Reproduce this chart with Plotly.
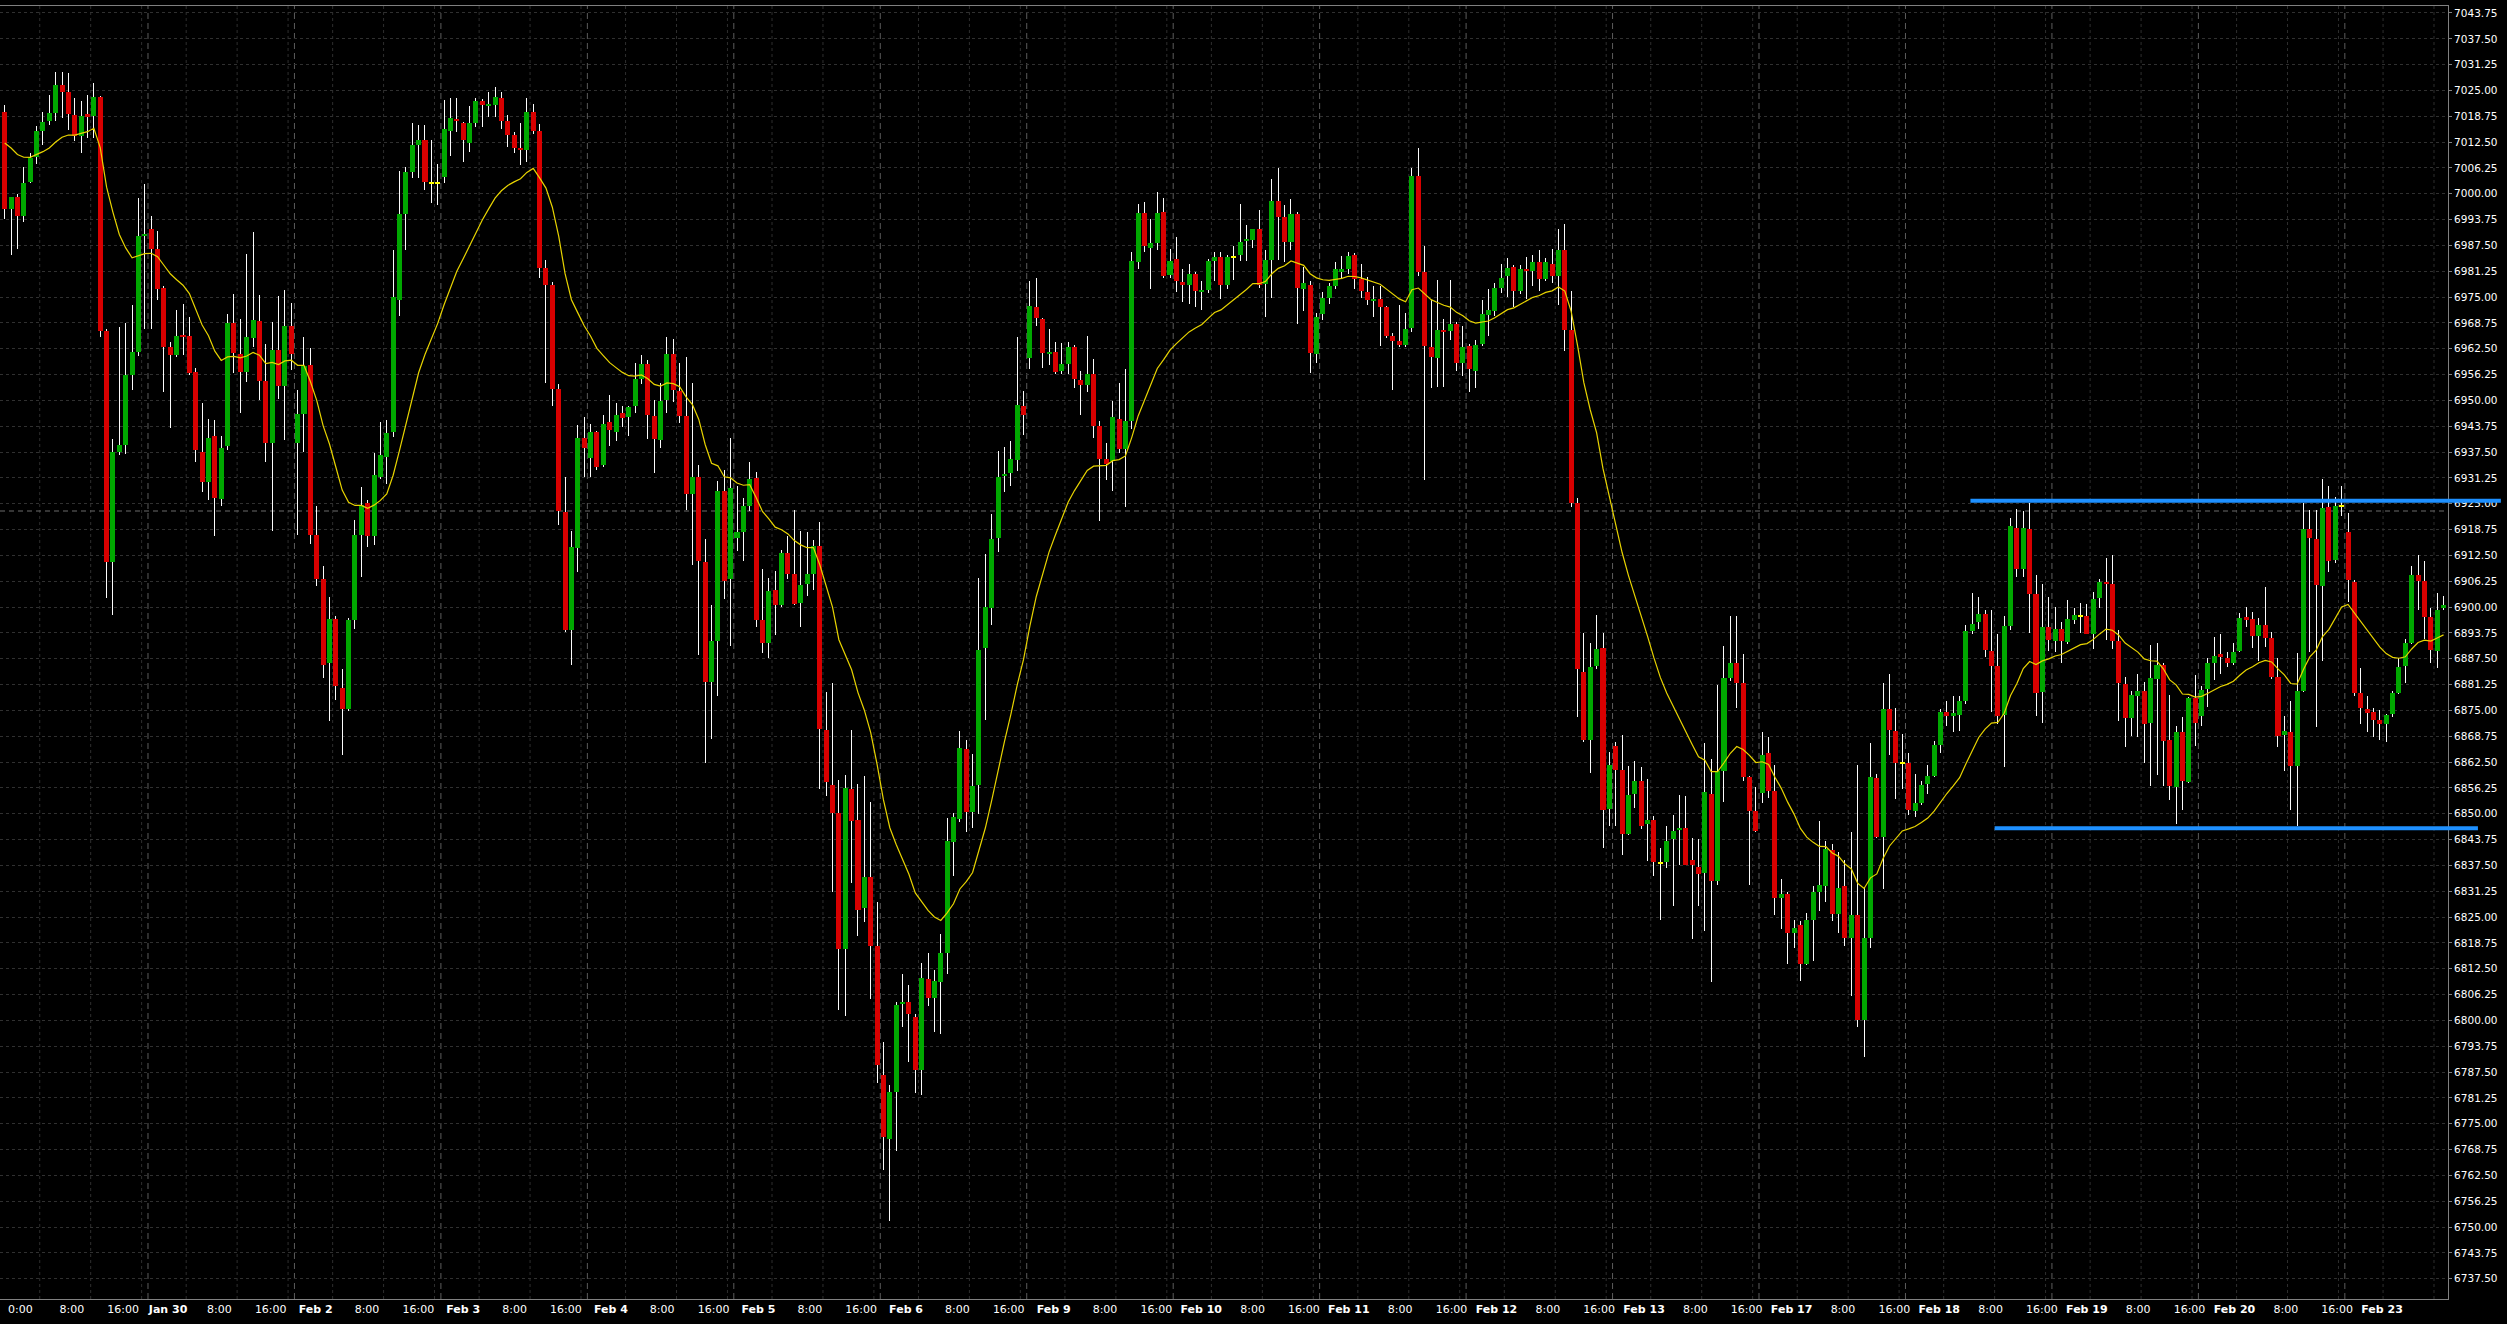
import plotly.graph_objects as go

# ---------------- data (hourly bars) ----------------
opens = [7019.7,6996.3,6999.2,6994.7,7002.9,7008.9,7015.3,7017.6,7019.5,7026.4,
7024.7,7019.0,7014.0,7019.3,7018.9,7023.5,6966.8,6911.0,6937.5,6939.3,
6956.1,6961.8,6989.7,6991.5,6986.6,6977.3,6963.0,6961.0,6965.8,6965.5,
6956.9,6937.5,6930.2,6941.3,6926.2,6939.0,6968.7,6961.3,6956.9,6965.1,
6969.3,6954.7,6939.6,6962.1,6953.5,6967.9,6939.6,6946.8,6958.6,6917.5,
6906.7,6886.5,6897.1,6880.4,6875.4,6897.0,6917.5,6925.3,6917.3,6931.6,
6936.4,6942.4,6974.2,6995.0,7005.2,7011.9,7012.9,7002.7,7002.7,7004.1,
7015.2,7018.0,7017.2,7012.4,7017.2,7022.4,7021.4,7021.6,7023.3,7017.5,
7014.3,7011.1,7010.7,7019.9,7015.3,6982.0,6978.0,6952.8,6923.0,6894.4,
6914.4,6940.8,6936.0,6942.3,6934.3,6944.7,6942.3,6946.9,6946.0,6948.6,
6955.1,6958.8,6946.3,6940.5,6950.0,6961.3,6952.3,6946.3,6927.3,6931.5,
6910.9,6881.8,6891.8,6928.1,6906.9,6916.7,6918.2,6924.5,6931.3,6896.8,
6891.4,6904.2,6900.5,6913.0,6907.9,6900.9,6905.6,6907.9,6914.8,6870.3,
6857.0,6850.2,6817.2,6855.9,6848.5,6827.2,6834.6,6818.0,6786.7,6771.4,
6782.6,6803.9,6804.5,6800.8,6788.0,6810.1,6805.3,6809.3,6816.3,6843.2,
6848.8,6865.7,6850.4,6857.0,6890.1,6899.8,6916.7,6931.7,6932.5,6935.7,
6948.7,6960.2,6972.5,6969.7,6961.2,6961.8,6957.2,6958.9,6963.0,6954.9,
6953.7,6956.3,6943.8,6935.9,6935.4,6945.4,6938.2,6945.0,6983.6,6995.4,
6986.8,6988.2,6995.6,6980.4,6984.2,6978.7,6978.0,6980.6,6976.4,6976.8,
6983.8,6984.7,6977.9,6984.8,6985.2,6988.6,6988.9,6991.6,6978.2,6984.1,
6998.2,6994.5,6988.4,6995.2,6977.0,6978.0,6961.2,6970.9,6974.8,6977.8,
6981.3,6981.9,6985.2,6979.4,6976.2,6974.2,6974.5,6972.5,6965.5,6964.3,
6963.5,6967.6,7004.2,6981.0,6963.0,6960.2,6967.1,6966.9,6968.5,6959.0,
6963.2,6957.2,6963.6,6970.6,6971.7,6977.3,6980.0,6982.4,6976.6,6981.9,
6981.3,6983.5,6979.4,6983.1,6980.0,6986.4,6967.0,6925.1,6884.2,6867.9,
6885.8,6890.1,6851.2,6866.3,6860.7,6845.2,6854.9,6857.9,6847.5,6848.5,
6838.1,6838.4,6843.9,6846.0,6846.5,6838.8,6837.2,6835.7,6854.9,6833.7,
6860.3,6882.8,6886.4,6881.7,6858.9,6850.6,6855.0,6864.6,6855.6,6829.7,
6830.5,6821.1,6823.0,6813.6,6824.3,6831.0,6832.4,6841.2,6825.7,6832.4,
6820.0,6825.6,6800.2,6820.0,6858.7,6844.4,6875.3,6870.1,6862.3,6862.3,
6850.6,6852.5,6857.3,6859.2,6866.7,6874.6,6873.7,6873.9,6877.3,6894.2,
6896.4,6898.3,6889.4,6885.7,6873.9,6895.4,6919.2,6909.2,6918.9,6903.2,
6879.5,6895.3,6891.9,6894.7,6891.6,6897.0,6897.9,6897.9,6893.6,6902.1,
6906.1,6905.6,6891.9,6881.4,6873.2,6878.5,6879.8,6872.0,6882.7,6886.0,
6867.8,6856.5,6869.8,6857.7,6878.1,6873.7,6880.1,6886.5,6888.6,6887.8,
6886.4,6889.4,6897.5,6897.1,6893.1,6895.6,6892.6,6883.1,6869.0,6869.8,
6861.6,6879.7,6918.9,6916.5,6905.2,6924.3,6911.4,6924.5,6918.1,6906.0,
6879.1,6875.3,6874.5,6872.6,6871.6,6874.1,6879.3,6885.8,6891.4,6907.8,
6906.4,6897.5,6889.4,6899.9]

highs = [7021.6,6999.2,7000.0,7006.4,7009.8,7016.3,7019.7,7023.9,7029.5,7029.5,
7029.2,7023.3,7022.4,7023.9,7026.7,7023.7,6967.3,6940.7,6967.8,6968.7,
6973.0,6999.0,7002.4,6994.7,6991.0,6977.8,6964.1,6971.9,6973.3,6970.1,
6957.9,6949.5,6945.5,6945.3,6941.3,6971.0,6975.8,6969.8,6985.5,6990.7,
6975.6,6963.6,6968.9,6975.2,6976.7,6973.5,6952.5,6965.3,6962.8,6924.4,
6909.9,6902.5,6897.9,6885.1,6897.3,6921.0,6929.0,6925.9,6937.3,6944.7,
6945.3,6986.4,7005.5,7006.4,7017.2,7016.7,7016.7,7012.9,7007.3,7022.6,
7023.2,7023.3,7017.4,7021.2,7023.2,7022.9,7024.7,7025.8,7024.7,7019.0,
7015.0,7017.1,7023.1,7021.8,7017.0,6984.0,6978.7,6954.0,6931.5,6918.5,
6944.0,6946.0,6944.4,6942.5,6946.6,6951.4,6949.3,6948.6,6948.6,6959.0,
6961.1,6959.9,6950.0,6954.2,6965.3,6964.8,6959.0,6960.5,6954.2,6934.3,
6916.4,6900.5,6930.4,6933.1,6941.0,6929.2,6926.4,6935.0,6932.7,6909.3,
6907.0,6908.8,6913.9,6917.3,6923.6,6918.5,6918.1,6916.2,6920.6,6879.4,
6881.6,6858.2,6859.3,6870.3,6857.3,6859.2,6852.9,6828.6,6794.8,6784.4,
6804.5,6811.2,6808.5,6801.5,6813.8,6816.3,6812.2,6820.9,6849.0,6850.1,
6870.0,6867.8,6864.4,6907.1,6912.8,6922.5,6937.8,6938.7,6940.1,6965.4,
6952.3,6979.0,6979.7,6969.9,6967.4,6964.2,6963.9,6964.2,6963.4,6957.2,
6965.7,6960.0,6945.0,6939.6,6949.8,6954.2,6957.7,6985.9,6997.5,6997.9,
6993.8,7000.5,6998.9,6986.7,6989.5,6981.9,6983.1,6981.0,6979.0,6984.2,
6985.9,6985.9,6985.2,6987.3,6997.5,6992.4,6991.6,6996.1,6986.4,7003.5,
7006.3,6997.3,6998.8,6995.6,6982.2,6979.0,6971.1,6976.2,6978.5,6983.6,
6985.0,6985.9,6985.7,6983.1,6979.9,6977.6,6977.8,6972.9,6966.3,6973.2,
6971.1,7006.3,7011.2,6987.3,6974.3,6979.2,6969.7,6979.2,6968.9,6968.0,
6963.6,6964.6,6974.3,6977.0,6978.4,6983.1,6984.4,6982.7,6982.7,6984.7,
6985.1,6986.4,6984.4,6986.7,6991.5,6992.7,6976.4,6926.3,6893.8,6891.4,
6898.1,6893.8,6865.0,6867.3,6869.0,6861.6,6862.7,6861.3,6858.3,6849.5,
6841.8,6847.1,6849.8,6854.6,6854.2,6844.2,6843.8,6867.0,6863.2,6881.1,
6890.5,6897.9,6897.9,6888.7,6859.2,6856.5,6869.9,6868.6,6861.9,6834.1,
6831.0,6824.3,6824.0,6826.1,6832.4,6848.2,6843.5,6842.6,6840.8,6838.8,
6845.5,6861.9,6832.1,6867.0,6859.6,6881.7,6883.8,6875.7,6869.4,6864.6,
6859.6,6857.9,6861.9,6867.7,6875.3,6877.4,6878.4,6878.5,6895.6,6903.5,
6902.5,6899.4,6899.4,6893.6,6897.8,6921.5,6923.7,6923.3,6925.1,6907.8,
6905.6,6902.5,6900.1,6896.4,6901.7,6899.9,6901.0,6900.7,6903.7,6906.7,
6911.9,6912.6,6894.4,6883.1,6879.8,6883.9,6881.9,6890.8,6891.2,6886.4,
6878.7,6871.2,6873.4,6878.3,6883.5,6880.9,6887.6,6892.8,6893.6,6889.2,
6891.2,6898.5,6900.1,6898.9,6897.3,6904.9,6894.0,6887.6,6873.6,6877.3,
6888.8,6925.1,6923.5,6923.5,6930.9,6929.3,6926.7,6929.3,6922.8,6906.5,
6885.2,6878.5,6875.7,6875.2,6874.2,6879.8,6887.6,6892.2,6909.9,6912.6,
6911.2,6899.7,6903.3,6902.7]

lows = [6994.0,6985.3,6986.7,6993.2,7002.6,7007.3,7011.9,7016.7,7017.5,7018.4,
7015.5,7012.7,7009.8,7013.6,7013.6,6965.3,6902.2,6898.1,6936.7,6937.0,
6952.5,6960.7,6967.3,6967.3,6974.4,6952.1,6943.3,6960.5,6961.0,6956.1,
6935.0,6927.9,6925.9,6917.3,6924.5,6937.9,6956.7,6947.0,6954.4,6963.0,
6950.2,6935.0,6918.5,6950.4,6940.4,6957.3,6917.5,6937.6,6915.3,6905.0,
6882.8,6872.4,6877.6,6864.2,6874.8,6894.7,6907.3,6914.5,6915.0,6931.0,
6929.7,6941.1,6970.4,6986.4,7003.9,7003.9,7000.9,6997.8,6997.2,7002.7,
7009.2,7014.9,7007.8,7010.1,7016.1,7016.1,7018.7,7018.7,7015.7,7011.4,
7009.8,7007.0,7007.8,7014.4,6979.6,6954.2,6948.6,6919.9,6894.0,6886.1,
6908.6,6931.5,6931.5,6933.1,6934.0,6938.9,6940.3,6943.5,6941.4,6946.9,
6954.0,6940.7,6932.4,6938.6,6946.9,6949.7,6944.5,6923.6,6910.2,6888.4,
6862.4,6868.2,6878.6,6901.9,6890.7,6913.6,6911.1,6923.2,6895.1,6888.9,
6887.7,6893.2,6900.0,6906.8,6900.5,6895.1,6902.8,6904.2,6856.1,6854.3,
6831.1,6802.5,6801.0,6833.2,6820.5,6823.7,6805.2,6784.8,6763.8,6751.5,
6768.4,6798.5,6789.9,6782.5,6782.0,6803.6,6797.3,6796.7,6811.3,6834.9,
6848.0,6845.7,6846.6,6849.9,6872.6,6895.6,6913.4,6927.9,6929.4,6932.9,
6941.7,6957.7,6967.9,6957.9,6958.6,6956.3,6956.3,6956.5,6953.0,6946.6,
6952.1,6941.0,6920.9,6930.8,6928.2,6937.3,6924.1,6943.0,6981.9,6985.9,
6976.9,6986.4,6979.7,6979.7,6976.2,6973.9,6973.4,6972.5,6972.0,6976.1,
6979.0,6974.5,6976.9,6979.2,6983.8,6983.8,6986.8,6977.3,6970.2,6974.8,
6984.1,6983.6,6986.4,6968.6,6971.6,6956.7,6959.1,6969.5,6973.4,6977.0,
6979.4,6980.5,6976.9,6974.8,6973.2,6970.2,6963.2,6965.1,6952.6,6963.0,
6963.0,6966.5,6980.1,6930.8,6952.9,6953.2,6953.2,6964.6,6957.2,6956.0,
6952.1,6953.0,6963.2,6965.6,6970.5,6976.0,6975.0,6972.7,6975.7,6974.6,
6977.7,6976.4,6979.0,6978.4,6973.0,6962.0,6924.3,6873.4,6867.3,6859.9,
6885.0,6841.8,6847.1,6847.1,6840.1,6844.8,6851.5,6846.2,6838.5,6835.0,
6824.4,6836.8,6827.8,6837.5,6837.5,6819.7,6827.8,6821.6,6809.3,6832.8,
6852.9,6882.0,6875.7,6857.9,6832.8,6845.5,6852.5,6853.8,6825.6,6822.0,
6813.6,6817.6,6809.5,6813.4,6814.4,6826.5,6828.7,6824.0,6821.1,6818.0,
6805.9,6798.5,6791.2,6817.6,6844.2,6831.8,6864.3,6853.5,6856.0,6849.8,
6849.3,6852.0,6854.9,6858.9,6864.7,6871.3,6869.9,6870.0,6876.5,6893.6,
6894.8,6888.0,6874.7,6871.8,6861.2,6894.4,6907.3,6907.3,6893.8,6873.7,
6872.0,6889.4,6889.2,6886.5,6891.0,6895.9,6893.8,6893.4,6889.8,6899.9,
6892.0,6889.8,6872.4,6866.2,6868.8,6868.6,6862.2,6856.7,6859.3,6856.7,
6853.3,6847.4,6851.0,6857.5,6866.4,6871.2,6875.9,6882.3,6883.8,6885.6,
6886.0,6889.2,6895.3,6890.0,6887.0,6890.4,6882.7,6866.2,6860.4,6851.0,
6847.0,6879.5,6889.2,6870.9,6887.0,6908.6,6910.7,6922.0,6901.3,6878.5,
6871.8,6869.8,6868.5,6867.8,6867.4,6873.5,6879.0,6881.7,6891.0,6899.4,
6892.2,6886.5,6885.2,6899.3]

closes = [6996.3,6999.2,6994.7,7002.6,7008.7,7015.2,7017.4,7019.5,7026.4,7024.7,
7019.2,7014.0,7018.9,7018.7,7023.5,6966.8,6910.8,6937.5,6939.3,6956.1,
6961.8,6989.8,6990.2,6986.6,6976.9,6963.0,6961.0,6965.6,6965.3,6956.7,
6938.1,6930.2,6940.9,6926.5,6938.4,6968.7,6961.6,6956.9,6965.3,6969.5,
6954.7,6939.6,6962.1,6953.5,6968.1,6961.3,6946.8,6958.4,6917.5,6906.7,
6885.9,6897.1,6881.0,6875.4,6897.0,6917.5,6924.7,6917.3,6931.9,6936.7,
6942.2,6975.0,6995.2,7005.2,7011.9,7013.0,7002.9,7002.7,7002.7,7015.8,
7018.4,7017.5,7012.9,7017.2,7022.4,7021.6,7021.8,7023.5,7017.7,7014.3,
7011.1,7010.7,7019.9,7015.3,6982.0,6978.0,6952.8,6923.3,6894.4,6914.5,
6940.9,6938.4,6942.3,6934.0,6944.2,6942.9,6946.6,6945.8,6948.4,6955.1,
6958.8,6946.6,6940.7,6949.8,6961.3,6952.5,6946.3,6927.3,6931.5,6911.1,
6881.8,6891.8,6928.2,6906.3,6928.7,6918.2,6924.4,6931.0,6896.9,6891.2,
6904.0,6900.5,6913.0,6907.9,6900.7,6905.3,6907.9,6914.8,6870.6,6857.6,
6850.2,6817.2,6856.2,6848.3,6826.8,6834.6,6818.0,6789.1,6771.7,6782.6,
6803.8,6804.5,6801.5,6788.0,6810.3,6805.3,6809.6,6816.3,6843.4,6849.2,
6865.8,6850.4,6856.8,6889.7,6900.0,6916.5,6931.5,6932.2,6935.9,6948.9,
6946.4,6972.8,6969.9,6961.6,6961.8,6956.9,6958.9,6963.0,6955.1,6953.8,
6956.3,6943.8,6935.9,6934.7,6946.1,6938.2,6945.0,6983.8,6995.4,6987.3,
6988.2,6995.4,6980.2,6983.8,6978.8,6978.0,6980.6,6976.4,6976.8,6983.8,
6984.7,6977.9,6984.7,6984.8,6988.4,6989.0,6991.6,6978.0,6984.1,6998.2,
6994.5,6988.4,6995.0,6977.1,6978.5,6961.4,6970.2,6974.8,6977.6,6981.7,
6981.7,6985.0,6979.4,6976.4,6974.2,6974.5,6972.7,6965.7,6964.4,6963.5,
6967.4,7004.4,6981.0,6963.2,6960.4,6967.1,6966.7,6968.5,6959.1,6962.9,
6957.5,6963.5,6971.0,6971.9,6977.3,6979.7,6982.0,6976.6,6981.7,6981.3,
6983.5,6979.4,6983.5,6980.0,6986.4,6967.0,6925.1,6885.1,6867.9,6885.4,
6889.8,6850.9,6861.9,6860.5,6845.2,6854.6,6857.9,6847.1,6848.5,6838.4,
6838.1,6843.5,6845.8,6846.6,6837.7,6837.5,6835.4,6855.2,6833.7,6860.3,
6882.8,6886.4,6881.7,6858.9,6850.6,6845.9,6864.3,6855.6,6829.7,6830.5,
6821.1,6822.4,6813.6,6824.3,6831.0,6832.8,6841.5,6825.8,6832.1,6820.0,
6825.6,6800.2,6820.0,6858.9,6844.4,6875.4,6870.3,6862.3,6862.3,6850.9,
6852.5,6856.9,6859.2,6866.7,6874.6,6873.7,6874.4,6877.3,6894.2,6895.9,
6898.3,6889.7,6885.7,6873.6,6895.4,6919.6,6909.1,6919.2,6903.2,6879.3,
6895.3,6892.0,6894.8,6891.9,6897.1,6898.1,6897.9,6893.6,6901.9,6906.1,
6905.7,6891.9,6881.7,6873.2,6878.7,6879.8,6871.8,6882.8,6886.0,6867.6,
6856.7,6869.8,6858.0,6878.1,6872.0,6879.9,6886.5,6888.1,6888.0,6886.4,
6889.2,6897.4,6896.9,6893.1,6895.6,6892.6,6883.1,6868.9,6870.1,6861.6,
6879.7,6918.9,6916.6,6905.3,6923.9,6911.2,6924.5,6924.5,6906.5,6879.1,
6875.7,6874.4,6872.8,6871.7,6874.0,6879.1,6885.6,6891.4,6907.8,6906.4,
6897.5,6889.6,6899.4,6900.5]

# x-axis labels: one entry per trading day (first day shows its 0:00 mark)
day_labels = ["0:00", "Jan 30", "Feb 2", "Feb 3", "Feb 4", "Feb 5", "Feb 6",
              "Feb 9", "Feb 10", "Feb 11", "Feb 12", "Feb 13", "Feb 17",
              "Feb 18", "Feb 19", "Feb 20", "Feb 23"]
hour_labels = ["8:00", "16:00"]

# horizontal level lines (price, first bar, last bar position)
level_prices = [6925.75, 6846.5]
level_start = [308.7, 312.5]
level_end = [392.0, 388.4]
ref_line_price = 6923.25

EMA_PERIOD = 20
EMA_SEED = 7014.0

# ---------------- figure ----------------
n = len(opens)
idx = list(range(n))
BARS_PER_DAY = 23
XR = [-0.74, 383.7]
YR = [6732.59, 7045.44]

GREEN = "#00a800"
RED = "#d80000"
DOJI = "#ffff00"

wick_base = lows
wick_len = [h - l for h, l in zip(highs, lows)]

body_base, body_len, body_col = [], [], []
for o, c in zip(opens, closes):
    if c == o:
        body_base.append(o - 0.18)
        body_len.append(0.36)
        body_col.append(DOJI)
    else:
        body_base.append(min(o, c))
        body_len.append(abs(c - o))
        body_col.append(GREEN if c > o else RED)

alpha = 2.0 / (EMA_PERIOD + 1)
ema = []
prev = EMA_SEED
for c in closes:
    prev = prev + alpha * (c - prev)
    ema.append(prev)

fig = go.Figure()
fig.add_trace(go.Bar(x=idx, y=wick_len, base=wick_base, width=0.157,
                     marker=dict(color="rgba(255,255,255,0.99)", line=dict(width=0)),
                     hoverinfo="skip"))
fig.add_trace(go.Bar(x=idx, y=body_len, base=body_base, width=0.79,
                     marker=dict(color=body_col, line=dict(width=0)),
                     hoverinfo="skip"))
fig.add_trace(go.Scatter(x=idx, y=ema, mode="lines",
                         line=dict(color="#e8d400", width=1.2), hoverinfo="skip"))

tickvals, ticktext = [], []
scale = 1.0078
for d, lab in enumerate(day_labels):
    base = 2.47 + scale * BARS_PER_DAY * d
    tickvals.append(base)
    ticktext.append(lab if d == 0 else "<b>%s</b>" % lab)
    if d < len(day_labels) - 1:
        for k, hl in enumerate(hour_labels):
            tickvals.append(base + scale * 8 * (k + 1))
            ticktext.append(hl)

shapes = []
for k in range(16):
    xs = 22.5 + BARS_PER_DAY * k
    shapes.append(dict(type="line", xref="x", yref="paper", x0=xs, x1=xs, y0=0, y1=1,
                       line=dict(color="#5c5c5c", width=1, dash="6px,4px"), layer="between"))
for m in range(17):
    for off in (5.5, 13.5, 21.5):
        xs = off + BARS_PER_DAY * m
        if XR[0] < xs < XR[1]:
            shapes.append(dict(type="line", xref="x", yref="paper", x0=xs, x1=xs, y0=0, y1=1,
                               line=dict(color="#2e2e2e", width=1, dash="3px,3px"), layer="between"))
shapes.append(dict(type="line", xref="paper", yref="y", x0=0, x1=1,
                   y0=ref_line_price, y1=ref_line_price,
                   line=dict(color="#6a6a6a", width=1, dash="5px,4px"), layer="between"))

def to_paper(v):
    return (v - XR[0]) / (XR[1] - XR[0])

for p, s, e in zip(level_prices, level_start, level_end):
    shapes.append(dict(type="line", xref="paper", yref="y", x0=to_paper(s), x1=to_paper(e),
                       y0=p, y1=p, line=dict(color="#1e90ff", width=4), layer="above"))

fig.update_layout(
    width=2507, height=1324,
    margin=dict(l=0, r=59, t=6, b=25),
    paper_bgcolor="#000000", plot_bgcolor="#000000",
    barmode="overlay", bargap=0, showlegend=False, hovermode=False,
    shapes=shapes,
    font=dict(family="DejaVu Sans", color="#ffffff"),
    xaxis=dict(range=XR, tickmode="array", tickvals=tickvals, ticktext=ticktext,
               showgrid=False, zeroline=False, showline=True, mirror=True,
               linecolor="#808080", linewidth=1, ticks="",
               tickfont=dict(family="DejaVu Sans", size=11, color="#ffffff")),
    yaxis=dict(range=YR, side="right", tick0=0, dtick=6.25, tickformat=".2f",
               showgrid=True, gridcolor="#303030", griddash="3px,3px", gridwidth=1,
               zeroline=False, showline=True, mirror=True, linecolor="#808080",
               linewidth=1, ticks="outside", ticklen=3, tickcolor="#808080",
               tickfont=dict(family="DejaVu Sans", size=10.5, color="#ffffff")),
)

fig.write_html("out.html",
               config={"displayModeBar": False, "staticPlot": False},
               post_script="document.body.style.margin='0';"
                           "document.body.style.background='#000';"
                           "document.documentElement.style.overflow='hidden';")
